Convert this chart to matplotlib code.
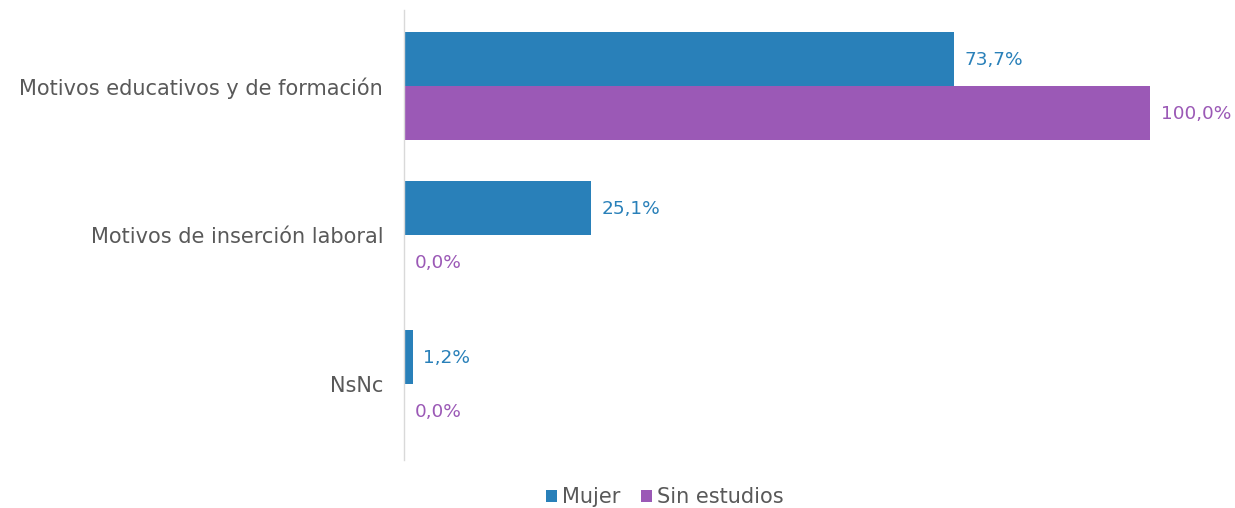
import matplotlib
matplotlib.use("Agg")
import matplotlib.pyplot as plt
import numpy as np

categories = ["Motivos educativos y de formación", "Motivos de inserción laboral", "NsNc"]
mujer = [73.7, 25.1, 1.2]
sin_estudios = [100.0, 0.0, 0.0]
series_names = ["Mujer", "Sin estudios"]
colors = ["#2980B9", "#9B59B6"]

plt.rcParams['font.family'] = ['DejaVu Sans']

fig = plt.figure(figsize=(12.35, 5.08), dpi=100)
ax = fig.add_axes([404/1235, 1-460/508, (1225-404)/1235, 450/508])

y = np.arange(len(categories))
h = 0.362
b1 = ax.barh(y - h/2, mujer, height=h, color=colors[0], label=series_names[0])
b2 = ax.barh(y + h/2, sin_estudios, height=h, color=colors[1], label=series_names[1])

def fmt(v):
    return f"{v:.1f}%".replace(".", ",")

for bars, vals, c in [(b1, mujer, colors[0]), (b2, sin_estudios, colors[1])]:
    for bar, v in zip(bars, vals):
        ax.annotate(fmt(v), (v, bar.get_y() + bar.get_height()/2),
                    xytext=(7.5, -1), textcoords="offset points",
                    va="center", ha="left", color=c, fontsize=13.3)

ax.set_xlim(0, 110)
ax.set_ylim(len(categories) - 0.49, -0.51)
ax.set_yticks(y)
ax.set_yticklabels(categories, fontsize=15, color="#595959")
ax.tick_params(axis="y", length=0, pad=15)
ax.set_xticks([])
for s in ["top", "right", "bottom"]:
    ax.spines[s].set_visible(False)
ax.spines["left"].set_color("#D9D9D9")
ax.spines["left"].set_linewidth(1)

leg = fig.legend(handles=[b1, b2], labels=series_names, loc="center",
                 bbox_to_anchor=(665/1235, 1-497/508), ncol=2, frameon=False,
                 fontsize=15, handlelength=0.5, handleheight=0.5,
                 handletextpad=0.25, columnspacing=1.0)
for t in leg.get_texts():
    t.set_color("#595959")

fig.savefig("out.png", dpi=100)
